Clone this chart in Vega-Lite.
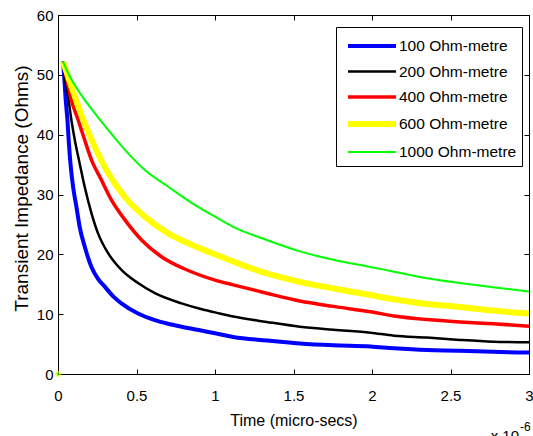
{
  "$schema": "https://vega.github.io/schema/vega-lite/v6.json",
  "width": 471,
  "height": 359,
  "autosize": "none",
  "padding": {"left": 58, "top": 15, "right": 4, "bottom": 62},
  "background": "white",
  "config": {
    "font": "Liberation Sans",
    "view": {"stroke": "black", "strokeWidth": 1},
    "axis": {
      "domainColor": "black",
      "domainWidth": 1,
      "tickColor": "black",
      "tickSize": -5,
      "labelColor": "black",
      "labelFontSize": 15,
      "labelFont": "Liberation Sans",
      "titleColor": "black",
      "titleFont": "Liberation Sans",
      "titleFontWeight": "normal",
      "grid": false
    }
  },
  "datasets": {
    "curves": [
      {"s": "100 Ohm-metre", "t": 0.032, "z": 52.2},
      {"s": "100 Ohm-metre", "t": 0.038, "z": 50.3},
      {"s": "100 Ohm-metre", "t": 0.049, "z": 45.8},
      {"s": "100 Ohm-metre", "t": 0.06, "z": 42.5},
      {"s": "100 Ohm-metre", "t": 0.068, "z": 39.1},
      {"s": "100 Ohm-metre", "t": 0.081, "z": 34.7},
      {"s": "100 Ohm-metre", "t": 0.096, "z": 31.3},
      {"s": "100 Ohm-metre", "t": 0.117, "z": 28.0},
      {"s": "100 Ohm-metre", "t": 0.138, "z": 24.6},
      {"s": "100 Ohm-metre", "t": 0.17, "z": 21.3},
      {"s": "100 Ohm-metre", "t": 0.213, "z": 17.9},
      {"s": "100 Ohm-metre", "t": 0.255, "z": 15.9},
      {"s": "100 Ohm-metre", "t": 0.298, "z": 14.6},
      {"s": "100 Ohm-metre", "t": 0.35, "z": 13.0},
      {"s": "100 Ohm-metre", "t": 0.404, "z": 11.8},
      {"s": "100 Ohm-metre", "t": 0.51, "z": 10.1},
      {"s": "100 Ohm-metre", "t": 0.617, "z": 9.0},
      {"s": "100 Ohm-metre", "t": 0.7, "z": 8.4},
      {"s": "100 Ohm-metre", "t": 0.787, "z": 7.9},
      {"s": "100 Ohm-metre", "t": 0.904, "z": 7.3},
      {"s": "100 Ohm-metre", "t": 1.0, "z": 6.8},
      {"s": "100 Ohm-metre", "t": 1.116, "z": 6.2},
      {"s": "100 Ohm-metre", "t": 1.329, "z": 5.6},
      {"s": "100 Ohm-metre", "t": 1.541, "z": 5.1},
      {"s": "100 Ohm-metre", "t": 1.754, "z": 4.8},
      {"s": "100 Ohm-metre", "t": 1.99, "z": 4.6},
      {"s": "100 Ohm-metre", "t": 2.14, "z": 4.3},
      {"s": "100 Ohm-metre", "t": 2.35, "z": 4.0},
      {"s": "100 Ohm-metre", "t": 2.56, "z": 3.9},
      {"s": "100 Ohm-metre", "t": 2.77, "z": 3.7},
      {"s": "100 Ohm-metre", "t": 3.0, "z": 3.6},

      {"s": "200 Ohm-metre", "t": 0.032, "z": 52.2},
      {"s": "200 Ohm-metre", "t": 0.045, "z": 49.2},
      {"s": "200 Ohm-metre", "t": 0.064, "z": 46.4},
      {"s": "200 Ohm-metre", "t": 0.085, "z": 42.5},
      {"s": "200 Ohm-metre", "t": 0.107, "z": 39.1},
      {"s": "200 Ohm-metre", "t": 0.138, "z": 35.2},
      {"s": "200 Ohm-metre", "t": 0.17, "z": 31.3},
      {"s": "200 Ohm-metre", "t": 0.213, "z": 26.9},
      {"s": "200 Ohm-metre", "t": 0.255, "z": 23.5},
      {"s": "200 Ohm-metre", "t": 0.319, "z": 20.2},
      {"s": "200 Ohm-metre", "t": 0.404, "z": 17.4},
      {"s": "200 Ohm-metre", "t": 0.51, "z": 15.2},
      {"s": "200 Ohm-metre", "t": 0.617, "z": 13.5},
      {"s": "200 Ohm-metre", "t": 0.787, "z": 11.8},
      {"s": "200 Ohm-metre", "t": 0.904, "z": 10.9},
      {"s": "200 Ohm-metre", "t": 1.0, "z": 10.3},
      {"s": "200 Ohm-metre", "t": 1.116, "z": 9.6},
      {"s": "200 Ohm-metre", "t": 1.329, "z": 8.7},
      {"s": "200 Ohm-metre", "t": 1.541, "z": 7.9},
      {"s": "200 Ohm-metre", "t": 1.754, "z": 7.4},
      {"s": "200 Ohm-metre", "t": 1.99, "z": 6.9},
      {"s": "200 Ohm-metre", "t": 2.14, "z": 6.4},
      {"s": "200 Ohm-metre", "t": 2.35, "z": 6.1},
      {"s": "200 Ohm-metre", "t": 2.56, "z": 5.7},
      {"s": "200 Ohm-metre", "t": 2.77, "z": 5.4},
      {"s": "200 Ohm-metre", "t": 3.0, "z": 5.3},

      {"s": "400 Ohm-metre", "t": 0.032, "z": 52.2},
      {"s": "400 Ohm-metre", "t": 0.053, "z": 49.7},
      {"s": "400 Ohm-metre", "t": 0.085, "z": 45.8},
      {"s": "400 Ohm-metre", "t": 0.128, "z": 42.5},
      {"s": "400 Ohm-metre", "t": 0.17, "z": 39.1},
      {"s": "400 Ohm-metre", "t": 0.213, "z": 35.8},
      {"s": "400 Ohm-metre", "t": 0.277, "z": 32.4},
      {"s": "400 Ohm-metre", "t": 0.34, "z": 29.1},
      {"s": "400 Ohm-metre", "t": 0.425, "z": 25.8},
      {"s": "400 Ohm-metre", "t": 0.532, "z": 22.4},
      {"s": "400 Ohm-metre", "t": 0.659, "z": 19.6},
      {"s": "400 Ohm-metre", "t": 0.829, "z": 17.3},
      {"s": "400 Ohm-metre", "t": 1.0, "z": 15.7},
      {"s": "400 Ohm-metre", "t": 1.116, "z": 14.9},
      {"s": "400 Ohm-metre", "t": 1.329, "z": 13.5},
      {"s": "400 Ohm-metre", "t": 1.541, "z": 12.2},
      {"s": "400 Ohm-metre", "t": 1.754, "z": 11.3},
      {"s": "400 Ohm-metre", "t": 1.99, "z": 10.4},
      {"s": "400 Ohm-metre", "t": 2.14, "z": 9.7},
      {"s": "400 Ohm-metre", "t": 2.35, "z": 9.1},
      {"s": "400 Ohm-metre", "t": 2.56, "z": 8.7},
      {"s": "400 Ohm-metre", "t": 2.77, "z": 8.4},
      {"s": "400 Ohm-metre", "t": 3.0, "z": 8.0},

      {"s": "600 Ohm-metre", "t": 0.032, "z": 52.2},
      {"s": "600 Ohm-metre", "t": 0.064, "z": 49.7},
      {"s": "600 Ohm-metre", "t": 0.107, "z": 46.4},
      {"s": "600 Ohm-metre", "t": 0.17, "z": 41.9},
      {"s": "600 Ohm-metre", "t": 0.234, "z": 38.0},
      {"s": "600 Ohm-metre", "t": 0.319, "z": 33.6},
      {"s": "600 Ohm-metre", "t": 0.425, "z": 29.6},
      {"s": "600 Ohm-metre", "t": 0.553, "z": 26.3},
      {"s": "600 Ohm-metre", "t": 0.702, "z": 23.5},
      {"s": "600 Ohm-metre", "t": 0.851, "z": 21.6},
      {"s": "600 Ohm-metre", "t": 1.0, "z": 20.0},
      {"s": "600 Ohm-metre", "t": 1.116, "z": 18.8},
      {"s": "600 Ohm-metre", "t": 1.329, "z": 16.8},
      {"s": "600 Ohm-metre", "t": 1.541, "z": 15.4},
      {"s": "600 Ohm-metre", "t": 1.754, "z": 14.3},
      {"s": "600 Ohm-metre", "t": 1.99, "z": 13.2},
      {"s": "600 Ohm-metre", "t": 2.14, "z": 12.5},
      {"s": "600 Ohm-metre", "t": 2.35, "z": 11.7},
      {"s": "600 Ohm-metre", "t": 2.56, "z": 11.2},
      {"s": "600 Ohm-metre", "t": 2.77, "z": 10.6},
      {"s": "600 Ohm-metre", "t": 3.0, "z": 10.1},

      {"s": "1000 Ohm-metre", "t": 0.032, "z": 52.2},
      {"s": "1000 Ohm-metre", "t": 0.064, "z": 50.3},
      {"s": "1000 Ohm-metre", "t": 0.149, "z": 46.6},
      {"s": "1000 Ohm-metre", "t": 0.234, "z": 43.6},
      {"s": "1000 Ohm-metre", "t": 0.319, "z": 40.8},
      {"s": "1000 Ohm-metre", "t": 0.425, "z": 37.5},
      {"s": "1000 Ohm-metre", "t": 0.553, "z": 34.1},
      {"s": "1000 Ohm-metre", "t": 0.702, "z": 31.3},
      {"s": "1000 Ohm-metre", "t": 0.851, "z": 28.6},
      {"s": "1000 Ohm-metre", "t": 1.0, "z": 26.3},
      {"s": "1000 Ohm-metre", "t": 1.116, "z": 24.6},
      {"s": "1000 Ohm-metre", "t": 1.329, "z": 22.4},
      {"s": "1000 Ohm-metre", "t": 1.541, "z": 20.5},
      {"s": "1000 Ohm-metre", "t": 1.754, "z": 19.1},
      {"s": "1000 Ohm-metre", "t": 1.99, "z": 17.9},
      {"s": "1000 Ohm-metre", "t": 2.14, "z": 17.1},
      {"s": "1000 Ohm-metre", "t": 2.35, "z": 16.0},
      {"s": "1000 Ohm-metre", "t": 2.56, "z": 15.2},
      {"s": "1000 Ohm-metre", "t": 2.77, "z": 14.5},
      {"s": "1000 Ohm-metre", "t": 3.0, "z": 13.8}
    ],
    "origin": [{"t": 0, "z": 0}],
    "note": [{"t": 3, "z": 0, "a": "x 10", "b": "-6"}]
  },
  "resolve": {"axis": {"x": "independent", "y": "independent"}},
  "layer": [
    {
      "data": {"name": "curves"},
      "mark": {"type": "line", "clip": true, "interpolate": "monotone"},
      "encoding": {
        "x": {
          "field": "t", "type": "quantitative",
          "scale": {"domain": [0, 3], "nice": false, "zero": false},
          "axis": {"orient": "bottom", "values": [0, 0.5, 1, 1.5, 2, 2.5, 3], "format": "~g", "title": "Time (micro-secs)", "titleFontSize": 16, "labelPadding": 19, "titlePadding": 9, "labelFlush": false}
        },
        "y": {
          "field": "z", "type": "quantitative",
          "scale": {"domain": [0, 60], "nice": false},
          "axis": {"orient": "left", "values": [0, 10, 20, 30, 40, 50, 60], "title": "Transient Impedance (Ohms)", "titleFontSize": 19, "labelPadding": 10, "titlePadding": 5, "titleY": 173}
        },
        "color": {
          "field": "s", "type": "nominal",
          "scale": {"domain": ["100 Ohm-metre", "200 Ohm-metre", "400 Ohm-metre", "600 Ohm-metre", "1000 Ohm-metre"], "range": ["#0000ff", "#000000", "#ff0000", "#ffff00", "#00ff00"]},
          "legend": {"title": null, "orient": "none", "legendX": 278, "legendY": 12, "fillColor": "white", "strokeColor": "black", "padding": 5, "labelFontSize": 15.5, "labelColor": "black", "labelFont": "Liberation Sans", "symbolType": "M-2,0L2,0", "symbolSize": 576, "symbolOffset": 16, "labelOffset": 12, "rowPadding": 3}
        },
        "strokeWidth": {
          "field": "s", "type": "nominal",
          "scale": {"type": "ordinal", "domain": ["100 Ohm-metre", "200 Ohm-metre", "400 Ohm-metre", "600 Ohm-metre", "1000 Ohm-metre"], "range": [4, 2.5, 3.5, 6, 2]},
          "legend": null
        }
      }
    },
    {
      "data": {"name": "origin"},
      "mark": {"type": "point", "filled": true, "color": "#00ff00", "stroke": "#ffff00", "strokeWidth": 1.5, "size": 20, "clip": false},
      "encoding": {
        "x": {"field": "t", "type": "quantitative", "axis": {"orient": "top", "values": [0, 0.5, 1, 1.5, 2, 2.5, 3], "labels": false, "title": null, "domain": false}},
        "y": {"field": "z", "type": "quantitative", "axis": {"orient": "right", "values": [0, 10, 20, 30, 40, 50, 60], "labels": false, "title": null, "domain": false}}
      }
    },
    {
      "data": {"name": "note"},
      "mark": {"type": "text", "align": "right", "baseline": "alphabetic", "dx": -10, "dy": 67, "fontSize": 15, "font": "Liberation Sans", "color": "black", "clip": false},
      "encoding": {
        "x": {"field": "t", "type": "quantitative", "axis": null},
        "y": {"field": "z", "type": "quantitative", "axis": null},
        "text": {"field": "a"}
      }
    },
    {
      "data": {"name": "note"},
      "mark": {"type": "text", "align": "left", "baseline": "alphabetic", "dx": -9, "dy": 57, "fontSize": 12, "font": "Liberation Sans", "color": "black", "clip": false},
      "encoding": {
        "x": {"field": "t", "type": "quantitative", "axis": null},
        "y": {"field": "z", "type": "quantitative", "axis": null},
        "text": {"field": "b"}
      }
    }
  ]
}
